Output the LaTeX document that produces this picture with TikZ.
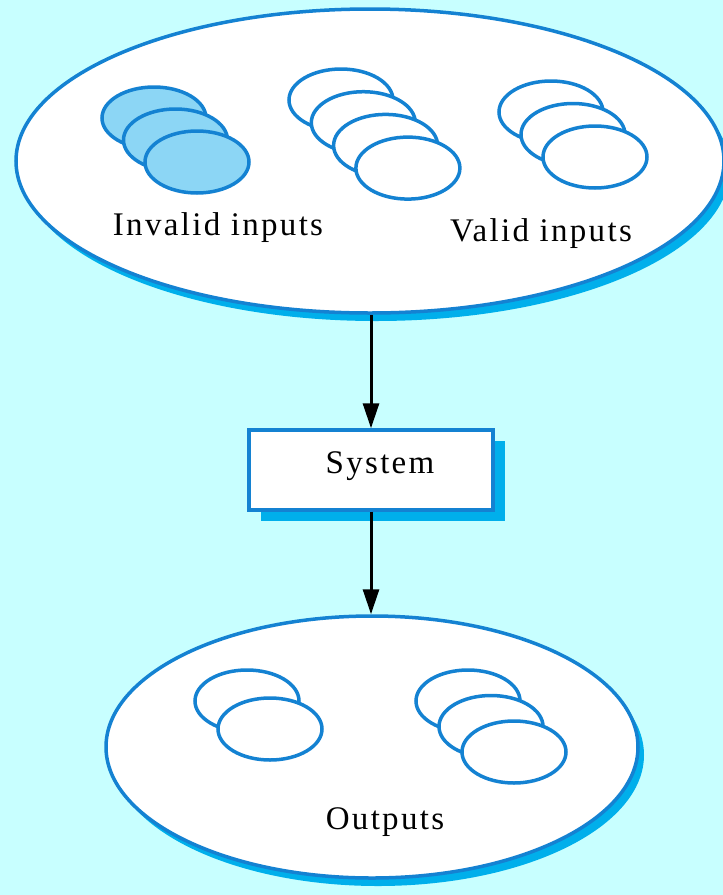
\documentclass[tikz,border=0pt]{standalone}
\usepackage{fontspec}
\setmainfont{Liberation Serif}[LetterSpace=7]
\usetikzlibrary{shapes.geometric,shadows,arrows.meta}
\definecolor{bgcyan}{RGB}{200,255,255}
\definecolor{setblue}{RGB}{20,130,210}
\definecolor{shadowblue}{RGB}{0,175,235}
\definecolor{badfill}{RGB}{140,214,245}
\tikzset{
  setline/.style={draw=setblue, line width=3.5pt},
  bigset/.style={ellipse, setline, fill=white, inner sep=0pt,
    drop shadow={shadow xshift=6pt, shadow yshift=-8pt, fill=shadowblue, opacity=1}},
  sysbox/.style={rectangle, setline, fill=white, inner sep=0pt,
    minimum width=244pt, minimum height=80pt,
    drop shadow={shadow xshift=12pt, shadow yshift=-11pt, fill=shadowblue, opacity=1}},
  goodblob/.style={setline, fill=white},
  badblob/.style={setline, fill=badfill},
  setlabel/.style={font=\fontsize{33}{38}\selectfont, inner sep=0pt},
  flow/.style={line width=3pt, -{Triangle[length=25pt,width=16pt]}}
}
% #1 x, #2 y of first blob, #3 count, #4 dx, #5 dy, #6 style
\newcommand{\blobStack}[6]{%
  \foreach \k in {1,...,#3} {
    \draw[#6] ({#1+#4*(\k-1)},{#2+#5*(\k-1)}) ellipse (52 and 31);
  }
}
\begin{document}
\begin{tikzpicture}[x=1pt, y=-1pt]
  \fill[bgcyan] (0,0) rectangle (723,895);
  \useasboundingbox (0,0) rectangle (723,895);
  % sets and system
  \node[bigset, minimum width=708pt, minimum height=304pt] (inputs) at (370,161) {};
  \node[sysbox] (system) at (371,470) {};
  \node[bigset, minimum width=532pt, minimum height=262pt] (outputs) at (372,747) {};
  % input blobs
  \blobStack{154}{118}{3}{21.5}{22}{badblob}
  \blobStack{341}{100}{4}{22.3}{22.7}{goodblob}
  \blobStack{551}{112}{3}{22}{22.5}{goodblob}
  % output blobs
  \blobStack{247}{701}{2}{23}{28}{goodblob}
  \blobStack{468}{701}{3}{23}{25.5}{goodblob}
  % labels
  \node[setlabel] (lblInvalid) at (218,228) {Invalid inputs};
  \node[setlabel] (lblValid) at (541,234) {Valid inputs};
  \node[setlabel] (lblSystem) at (380,466) {System};
  \node[setlabel] (lblOutputs) at (385,822) {Outputs};
  % flow
  \draw[flow] (inputs.south -| system.north) -- (system.north);
  \draw[flow] (system.south) -- (outputs.north -| system.south);
\end{tikzpicture}
\end{document}
